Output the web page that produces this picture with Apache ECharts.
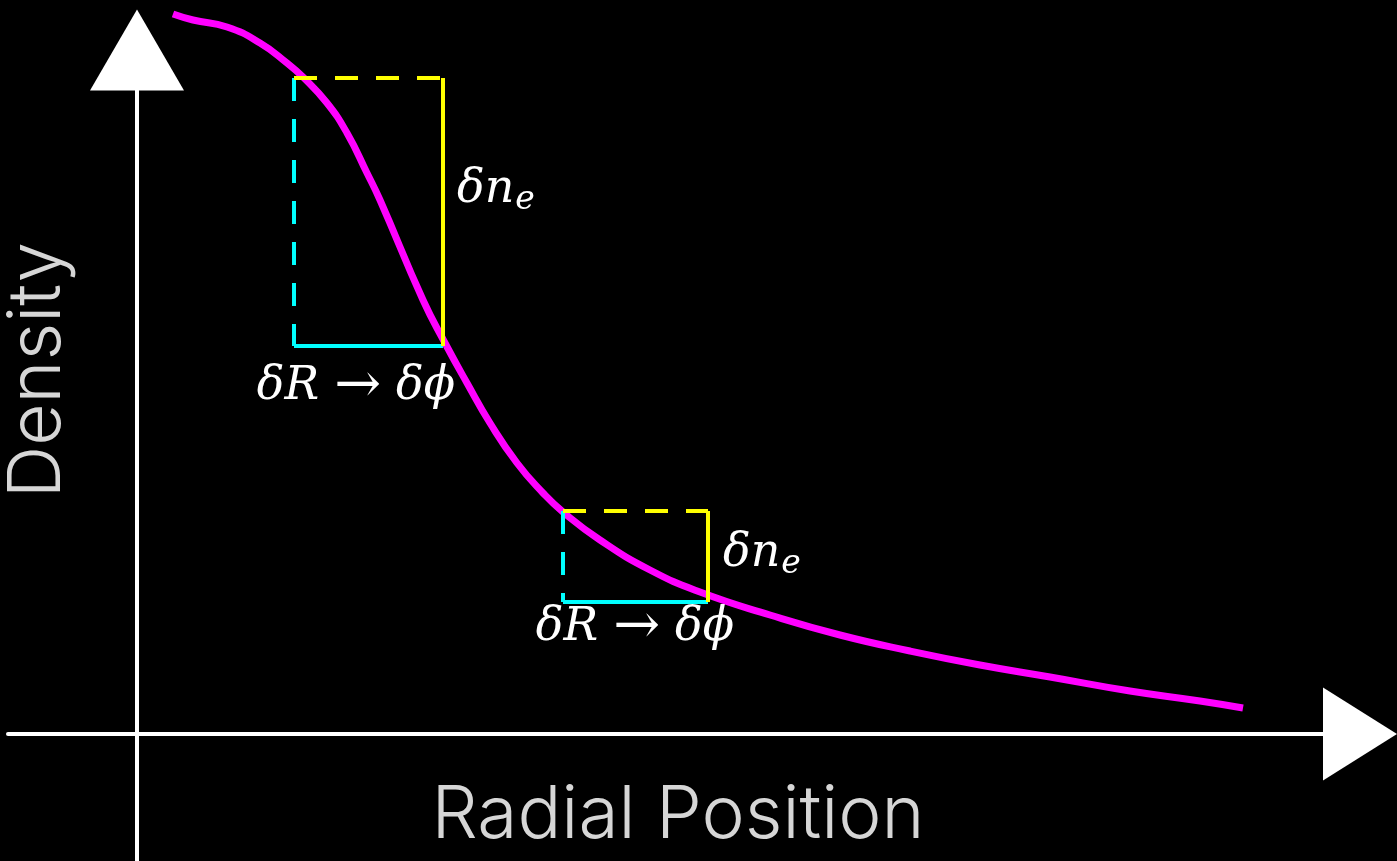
<!DOCTYPE html>
<html>
<head>
<meta charset="utf-8">
<script src="https://cdn.jsdelivr.net/npm/echarts@6/dist/echarts.min.js"></script>
<style>
  html, body { margin: 0; padding: 0; background: #000; }
  #chart { width: 1397px; height: 861px; }
</style>
</head>
<body>
<div id="chart"></div>
<script>
// 密度剖面曲线（径向位置 -> 密度），单位：任意
const curveX = [0.36, 0.56, 0.90, 1.23, 1.50, 1.66, 1.90, 2.10, 2.30, 2.43, 2.86, 3.08, 3.30, 3.53, 3.80, 4.06, 4.26, 4.63, 5.13, 5.63, 6.33, 7.03, 7.73, 8.43, 9.13, 9.93, 10.63, 11.06];
const curveY = [7.20, 7.14, 7.07, 6.91, 6.71, 6.57, 6.31, 6.01, 5.61, 5.34, 4.34, 3.91, 3.51, 3.11, 2.71, 2.41, 2.22, 1.94, 1.64, 1.42, 1.19, 0.99, 0.83, 0.69, 0.57, 0.43, 0.33, 0.26];

// 两个小矩形 [左, 右] / [下, 上]
const box1X = [1.57, 3.06];
const box1Y = [3.88, 6.56];
const box2X = [4.26, 5.71];
const box2Y = [1.32, 2.23];

// 标注文字
const neText = '{d|δn}{s|e}';
const drText = '{d|δR}{a|→}{d|δϕ}';
const neAnchors = [[3.20, 5.44], [5.86, 1.80]];
const drAnchors = [[2.19, 3.47], [4.98, 1.06]];

const xRange = [-1.29, 12.23];
const yRange = [-1.27, 6.84];

const chart = echarts.init(document.getElementById('chart'));

const seg = (a, b, color, dashed) => ({
    type: 'line',
    data: [a, b],
    symbol: 'none',
    clip: false,
    silent: true,
    lineStyle: { color: color, width: 4, type: dashed ? [23, 18] : 'solid', cap: 'butt' },
    z: 3
});

const boxSeries = (bx, by) => [
    seg([bx[0], by[1]], [bx[0], by[0]], '#00ffff', true),  // 左 虚线
    seg([bx[0], by[0]], [bx[1], by[0]], '#00ffff', false), // 下 实线
    seg([bx[0], by[1]], [bx[1], by[1]], '#ffff00', true),  // 上 虚线
    seg([bx[1], by[1]], [bx[1], by[0]], '#ffff00', false)  // 右 实线
];

const serif = '"DejaVu Serif", serif';
const txt = { color: '#ffffff', opacity: 1 };
const mathRich = {
    d: { ...txt, fontFamily: serif, fontStyle: 'italic', fontSize: 46 },
    s: { ...txt, fontFamily: serif, fontStyle: 'italic', fontSize: 33, padding: [20, 0, 0, 1] },
    a: { ...txt, fontFamily: serif, fontSize: 56, padding: [0, 15, 0, 15] }
};

const labelSeries = (anchors, text, align) => ({
    type: 'scatter',
    data: anchors,
    symbolSize: 0,
    clip: false,
    silent: true,
    itemStyle: { opacity: 1 },
    label: { show: true, position: 'inside', align: align, verticalAlign: 'middle', formatter: text, rich: mathRich, opacity: 1 },
    z: 4
});

const option = {
    backgroundColor: '#000',
    animation: false,
    grid: { left: 8, right: 37, top: 50, bottom: 0, containLabel: false, outerBoundsMode: 'none' },
    xAxis: {
        type: 'value',
        min: xRange[0],
        max: xRange[1],
        axisLine: { onZero: true, lineStyle: { color: '#fff', width: 4 }, symbol: ['none', 'triangle'], symbolSize: [93, 74] },
        axisTick: { show: false },
        axisLabel: { show: false },
        splitLine: { show: false }
    },
    yAxis: {
        type: 'value',
        min: yRange[0],
        max: yRange[1],
        axisLine: { onZero: true, lineStyle: { color: '#fff', width: 4 }, symbol: ['none', 'triangle'], symbolSize: [94, 81] },
        axisTick: { show: false },
        axisLabel: { show: false },
        splitLine: { show: false }
    },
    graphic: [
        {
            type: 'text', x: 678, y: 816,
            style: { text: 'Radial Position', font: '300 73px Inter', fill: '#d6d6d6', align: 'center', verticalAlign: 'middle' }
        },
        {
            type: 'text', x: 38, y: 370, rotation: Math.PI / 2,
            style: { text: 'Density', font: '300 73px Inter', fill: '#d6d6d6', align: 'center', verticalAlign: 'middle' }
        }
    ],
    series: [
        {
            type: 'line',
            data: curveX.map((x, i) => [x, curveY[i]]),
            smooth: 0.5,
            symbol: 'none',
            clip: false,
            silent: true,
            lineStyle: { color: '#ff00ff', width: 7 },
            z: 2
        },
        ...boxSeries(box1X, box1Y),
        ...boxSeries(box2X, box2Y),
        labelSeries(neAnchors, neText, 'left'),
        labelSeries(drAnchors, drText, 'center')
    ]
};

chart.setOption(option);
</script>
</body>
</html>
